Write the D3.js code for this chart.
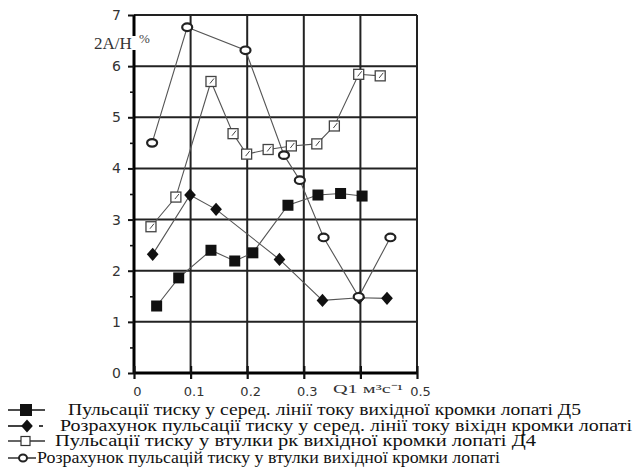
<!DOCTYPE html>
<html>
<head>
<meta charset="utf-8">
<script src="https://cdn.jsdelivr.net/npm/d3@7"></script>
<style>
  html, body { margin: 0; padding: 0; background: #fff; }
  svg { display: block; }
</style>
</head>
<body>
<svg id="chart" width="637" height="475"></svg>
<script>
// ---- data ----
const xTicks = [0, 0.1, 0.2, 0.3, 0.4, 0.5];
const xTickLabels = ["0", "0.1", "0.2", "0.3", "", "0.5"];
const yTicks = [0, 1, 2, 3, 4, 5, 6, 7];
const yMinorTicks = [0.5, 1.5, 2.5, 3.5, 4.5, 5.5, 6.5];
const xAxisTitle = "Q1 м³с⁻¹";
const yAxisTitle = "2A/H";
const yAxisUnit = "%";

const s1x = [0.040, 0.079, 0.136, 0.178, 0.210, 0.272, 0.325, 0.365, 0.403];
const s1y = [1.31, 1.86, 2.40, 2.19, 2.35, 3.28, 3.48, 3.51, 3.46];

const s2x = [0.033, 0.099, 0.145, 0.257, 0.333, 0.398, 0.447];
const s2y = [2.32, 3.48, 3.20, 2.22, 1.42, 1.47, 1.46];

const s3x = [0.030, 0.074, 0.136, 0.175, 0.199, 0.237, 0.278, 0.323, 0.354, 0.397, 0.435];
const s3y = [2.86, 3.44, 5.70, 4.68, 4.28, 4.37, 4.44, 4.48, 4.83, 5.84, 5.81];

const s4x = [0.032, 0.094, 0.197, 0.265, 0.293, 0.335, 0.397, 0.453];
const s4y = [4.50, 6.76, 6.31, 4.26, 3.77, 2.65, 1.49, 2.65];

const legendLabels = [
  "Пульсації тиску у серед. лінії току вихідної кромки лопаті Д5",
  "Розрахунок пульсації тиску у серед. лінії току віхідн кромки лопаті",
  "Пульсації тиску  у втулки рк вихідної кромки лопаті Д4",
  "Розрахунок пульсацій тиску у втулки вихідної кромки лопаті"
];

// ---- drawing ----
const svg = d3.select("#chart");
const x = d3.scaleLinear().domain([0, 0.5]).range([134, 417]);
const y = d3.scaleLinear().domain([0, 7]).range([373, 15]);

// grid
const grid = svg.append("g").attr("class", "grid");
grid.selectAll("line.h").data(yTicks.filter(d => d > 0)).join("line").attr("class", "h")
  .attr("x1", x(0)).attr("x2", x(0.5))
  .attr("y1", d => y(d)).attr("y2", d => y(d))
  .style("stroke", "#222").style("stroke-width", "2px");
grid.selectAll("line.v").data(xTicks.filter(d => d > 0)).join("line").attr("class", "v")
  .attr("y1", y(7)).attr("y2", y(0))
  .attr("x1", d => x(d)).attr("x2", d => x(d))
  .style("stroke", "#222").style("stroke-width", "2px");

// axis lines
svg.append("line").attr("x1", x(0)).attr("x2", x(0)).attr("y1", y(7)).attr("y2", y(0))
  .style("stroke", "#000").style("stroke-width", "3px");
svg.append("line").attr("x1", x(0)).attr("x2", x(0.5)).attr("y1", y(0)).attr("y2", y(0))
  .style("stroke", "#000").style("stroke-width", "3px");

// y axis ticks + labels
const yAxis = d3.axisLeft(y).tickValues(yTicks).tickSize(6).tickPadding(7).tickFormat(d3.format("d"));
const gy = svg.append("g").attr("transform", `translate(${x(0)},0)`).call(yAxis);
gy.select(".domain").remove();
gy.selectAll(".tick line").style("stroke", "#111").style("stroke-width", "2px");
gy.selectAll(".tick text").attr("font-family", "DejaVu Sans, sans-serif").attr("font-size", 14).attr("fill", "#333");
const gyMinor = d3.axisLeft(y).tickValues(yMinorTicks).tickSize(4).tickFormat("");
const gym = svg.append("g").attr("transform", `translate(${x(0)},0)`).call(gyMinor);
gym.select(".domain").remove();
gym.selectAll(".tick line").style("stroke", "#111").style("stroke-width", "1.6px");

// x axis ticks + labels
const xAxis = d3.axisBottom(x).tickValues(xTicks).tickSize(6).tickPadding(8)
  .tickFormat((d, i) => xTickLabels[i]);
const gx = svg.append("g").attr("transform", `translate(0,${y(0)})`).call(xAxis);
gx.select(".domain").remove();
gx.selectAll(".tick line").attr("y1", -7).style("stroke", "#111").style("stroke-width", "2.2px");
gx.selectAll(".tick text").attr("font-family", "DejaVu Sans, sans-serif").attr("font-size", 13).attr("fill", "#333").attr("dx", 3);

svg.append("text").attr("x", 333).attr("y", y(0) + 20)
  .attr("font-family", "Liberation Serif, serif").attr("font-size", 13).attr("fill", "#333")
  .attr("textLength", 70).attr("lengthAdjust", "spacingAndGlyphs")
  .text(xAxisTitle);

// y title
svg.append("rect").attr("x", 120).attr("y", 36).attr("width", 18).attr("height", 14).attr("fill", "#fff");
svg.append("text").attr("x", 94).attr("y", 49)
  .attr("font-family", "Liberation Serif, serif").attr("font-size", 17).attr("fill", "#333")
  .text(yAxisTitle);
svg.append("text").attr("x", 139).attr("y", 43)
  .attr("font-family", "Liberation Serif, serif").attr("font-size", 13).attr("fill", "#444")
  .text(yAxisUnit);

// series
const lineGen = d3.line().x(d => x(d[0])).y(d => y(d[1]));
const zip = (a, b) => a.map((v, i) => [v, b[i]]);
const series = [zip(s1x, s1y), zip(s2x, s2y), zip(s3x, s3y), zip(s4x, s4y)];

series.forEach(pts => {
  svg.append("path").datum(pts).attr("d", lineGen)
    .attr("fill", "none").attr("stroke", "#555").attr("stroke-width", 1.1);
});

function marker(g, kind, cx, cy) {
  if (kind === 0) {
    g.append("rect").attr("x", cx - 5.5).attr("y", cy - 5.5).attr("width", 11).attr("height", 11).attr("fill", "#111");
  } else if (kind === 1) {
    g.append("path").attr("d", d3.symbol().type(d3.symbolDiamond).size(70)())
      .attr("transform", `translate(${cx},${cy}) scale(1.3,0.85)`).attr("fill", "#111");
  } else if (kind === 2) {
    g.append("rect").attr("x", cx - 5).attr("y", cy - 5).attr("width", 10).attr("height", 10)
      .attr("fill", "#fff").attr("stroke", "#444").attr("stroke-width", 1.3);
    g.append("line").attr("x1", cx - 1).attr("y1", cy + 2).attr("x2", cx + 3).attr("y2", cy - 3)
      .attr("stroke", "#444").attr("stroke-width", 1);
  } else {
    g.append("ellipse").attr("cx", cx).attr("cy", cy).attr("rx", 5).attr("ry", 3.8)
      .attr("fill", "#fff").attr("stroke", "#222").attr("stroke-width", 2.2);
  }
}

const mg = svg.append("g");
series.forEach((pts, k) => {
  pts.forEach(p => marker(mg, k, x(p[0]), y(p[1])));
});

// legend
const legY = [410, 426, 441, 458];
const legTextX = [68, 60, 55, 37];
const legTextEnd = [581, 632, 536, 500];
const lg = svg.append("g");
legendLabels.forEach((t, i) => {
  const yy = legY[i];
  if (i === 0) {
    lg.append("line").attr("x1", 8).attr("x2", 45).attr("y1", yy).attr("y2", yy).attr("stroke", "#111").attr("stroke-width", 1.6);
    lg.append("rect").attr("x", 20).attr("y", yy - 6).attr("width", 12).attr("height", 12).attr("fill", "#111");
  } else if (i === 1) {
    lg.append("line").attr("x1", 8).attr("x2", 22).attr("y1", yy).attr("y2", yy).attr("stroke", "#111").attr("stroke-width", 1.6);
    marker(lg, 1, 27, yy);
    lg.append("line").attr("x1", 39).attr("x2", 43).attr("y1", yy).attr("y2", yy).attr("stroke", "#111").attr("stroke-width", 1.6);
  } else if (i === 2) {
    lg.append("line").attr("x1", 8).attr("x2", 45).attr("y1", yy).attr("y2", yy).attr("stroke", "#333").attr("stroke-width", 1.4);
    lg.append("rect").attr("x", 21).attr("y", yy - 4.5).attr("width", 9).attr("height", 9)
      .attr("fill", "#fff").attr("stroke", "#333").attr("stroke-width", 1.2);
  } else {
    lg.append("line").attr("x1", 8).attr("x2", 36).attr("y1", yy).attr("y2", yy).attr("stroke", "#222").attr("stroke-width", 1.4);
    lg.append("ellipse").attr("cx", 23).attr("cy", yy).attr("rx", 4).attr("ry", 3.5)
      .attr("fill", "#fff").attr("stroke", "#222").attr("stroke-width", 2);
  }
  lg.append("text").attr("x", legTextX[i]).attr("y", yy + 5)
    .attr("font-family", "Liberation Serif, serif").attr("font-size", 17).attr("fill", "#111")
    .attr("textLength", legTextEnd[i] - legTextX[i]).attr("lengthAdjust", "spacingAndGlyphs")
    .text(t);
});
</script>
</body>
</html>
